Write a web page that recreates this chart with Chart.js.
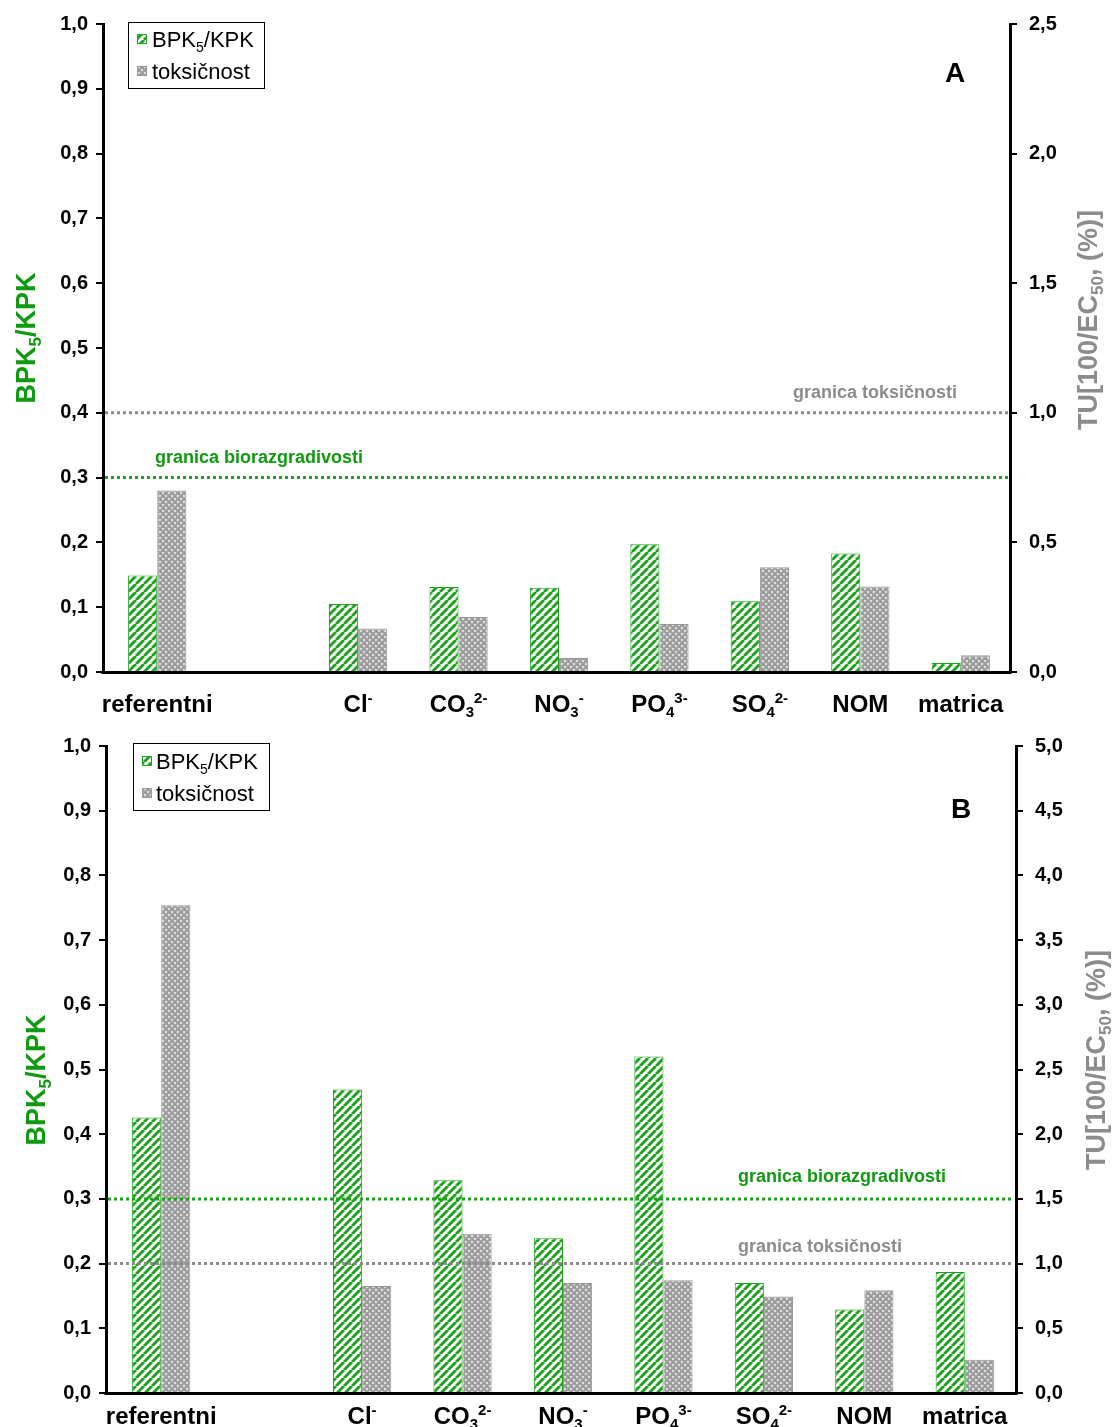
<!DOCTYPE html>
<html>
<head>
<meta charset="utf-8">
<script src="https://cdn.jsdelivr.net/npm/chart.js@4.4.0/dist/chart.umd.min.js"></script>
<style>
  body { margin: 0; background: #fff; }
  canvas { position: absolute; left: 0; }
</style>
</head>
<body>
<canvas id="chartA" width="1112" height="722" style="top:0"></canvas>
<canvas id="chartB" width="1112" height="705" style="top:722px"></canvas>
<script>
// Categories (second slot is left empty on purpose, gap after the reference sample)
const categories = ['referentni', '', 'Cl⁻', 'CO₃²⁻', 'NO₃⁻', 'PO₄³⁻', 'SO₄²⁻', 'NOM', 'matrica'];
const seriesNames = ['BPK₅/KPK', 'toksičnost'];

// Panel A
const bpkA = [0.149, null, 0.105, 0.131, 0.130, 0.197, 0.109, 0.183, 0.014];
const toxA = [0.70, null, 0.168, 0.212, 0.054, 0.185, 0.404, 0.330, 0.065];

// Panel B
const bpkB = [0.426, null, 0.469, 0.329, 0.239, 0.520, 0.170, 0.129, 0.187];
const toxB = [3.77, null, 0.826, 1.230, 0.850, 0.871, 0.745, 0.795, 0.256];

// Axis ranges / steps
const leftMax = 1.0, leftStep = 0.1;
const rightMaxA = 2.5, rightMaxB = 5.0, rightStep = 0.5;

// Limits (left axis: biodegradability, right axis: toxicity)
const bioLimit = 0.3;
const toxLimit = 1.0;
const bioName = 'granica biorazgradivosti';
const toxName = 'granica toksičnosti';

const GREEN = '#1fa31f';
const GREEN_TXT = '#0f9a0f';
const GRAY = '#8c8c8c';
const FONT = '"Liberation Sans", Arial, sans-serif';

function stripePattern() {
  const n = 8;
  const c = document.createElement('canvas');
  c.width = c.height = n;
  const g = c.getContext('2d');
  g.fillStyle = '#fff';
  g.fillRect(0, 0, n, n);
  g.strokeStyle = GREEN;
  g.lineWidth = 3;
  for (let k = -1; k <= 1; k++) {
    g.beginPath();
    g.moveTo(k * n, n);
    g.lineTo(k * n + n, 0);
    g.stroke();
  }
  return g.createPattern(c, 'repeat');
}

function dotPattern() {
  const c = document.createElement('canvas');
  c.width = c.height = 6;
  const g = c.getContext('2d');
  g.fillStyle = '#a2a2a2';
  g.fillRect(0, 0, 6, 6);
  g.fillStyle = '#dcdcdc';
  g.fillRect(0, 0, 2, 2);
  g.fillRect(3, 3, 2, 2);
  g.fillStyle = '#888';
  g.fillRect(4, 1, 1, 1);
  g.fillRect(1, 4, 1, 1);
  return g.createPattern(c, 'repeat');
}

const stripes = stripePattern();
const dots = dotPattern();

// sub/superscript handling for labels like CO₃²⁻
const SUB = {'₀':'0','₁':'1','₂':'2','₃':'3','₄':'4','₅':'5','₆':'6','₇':'7','₈':'8','₉':'9'};
const SUP = {'⁰':'0','¹':'1','²':'2','³':'3','⁴':'4','⁵':'5','⁶':'6','⁷':'7','⁸':'8','⁹':'9','⁻':'-'};

function segments(text) {
  const out = [];
  for (const ch of text) {
    let mode = 'n', c = ch;
    if (SUB[ch]) { mode = 'sub'; c = SUB[ch]; }
    else if (SUP[ch]) { mode = 'sup'; c = SUP[ch]; }
    const last = out[out.length - 1];
    if (last && last.mode === mode) last.text += c;
    else out.push({ mode, text: c });
  }
  return out;
}

function drawRich(ctx, text, x, y, size, weight, color, align) {
  const small = Math.round(size * 0.64);
  const segs = segments(text);
  const fontFor = m => `${weight} ${m === 'n' ? size : small}px ${FONT}`;
  let w = 0;
  segs.forEach(s => { ctx.font = fontFor(s.mode); s.w = ctx.measureText(s.text).width; w += s.w; });
  let cx = align === 'center' ? x - w / 2 : align === 'right' ? x - w : x;
  ctx.fillStyle = color;
  ctx.textAlign = 'left';
  ctx.textBaseline = 'alphabetic';
  const base = y + size * 0.36;
  segs.forEach(s => {
    ctx.font = fontFor(s.mode);
    const dy = s.mode === 'sub' ? size * 0.24 : s.mode === 'sup' ? -size * 0.36 : 0;
    ctx.fillText(s.text, cx, base + dy);
    cx += s.w;
  });
}

function fmt(v) { return v.toFixed(1).replace('.', ','); }

function decorations(L) {
  return {
    id: 'decor',
    // categories start a few px right of the value axis line
    afterLayout(chart) {
      const x = chart.scales.x;
      x.left += L.xShift[0];
      x.right += L.xShift[1];
      x.width = x.right - x.left;
      x.configure();
    },
    afterDraw(chart) {
      const ctx = chart.ctx;
      const area = chart.chartArea;
      const x = chart.scales.x, y = chart.scales.y, y2 = chart.scales.y2;
      ctx.save();

      // category axis line
      ctx.beginPath();
      ctx.lineWidth = 3;
      ctx.strokeStyle = '#000';
      ctx.moveTo(area.left - 1.5, area.bottom + 0.5);
      ctx.lineTo(area.right + 1.5, area.bottom + 0.5);
      ctx.stroke();

      // limit lines
      const lines = [
        { py: y2.getPixelForValue(toxLimit), color: GRAY },
        { py: y.getPixelForValue(bioLimit), color: GREEN }
      ];
      lines.forEach(l => {
        ctx.beginPath();
        ctx.setLineDash([3, 3]);
        ctx.lineWidth = 3;
        ctx.strokeStyle = l.color;
        ctx.moveTo(area.left + 2, l.py);
        ctx.lineTo(area.right - 2, l.py);
        ctx.stroke();
      });
      ctx.setLineDash([]);
      drawRich(ctx, toxName, L.toxText[0], L.toxText[1], 18, 'bold', GRAY, L.toxText[2]);
      drawRich(ctx, bioName, L.bioText[0], L.bioText[1], 18, 'bold', GREEN_TXT, L.bioText[2]);

      // category labels
      categories.forEach((c, i) => {
        if (!c) return;
        drawRich(ctx, c, x.getPixelForValue(i), area.bottom + L.labelDy, 24, 'bold', '#000', 'center');
      });

      // axis titles
      ctx.save();
      ctx.translate(L.leftTitle[0], L.leftTitle[1]);
      ctx.rotate(-Math.PI / 2);
      drawRich(ctx, 'BPK₅/KPK', 0, 0, 27, 'bold', GREEN_TXT, 'center');
      ctx.restore();
      ctx.save();
      ctx.translate(L.rightTitle[0], L.rightTitle[1]);
      ctx.rotate(-Math.PI / 2);
      drawRich(ctx, 'TU[100/EC₅₀, (%)]', 0, 0, 27, 'bold', GRAY, 'center');
      ctx.restore();

      // panel letter
      drawRich(ctx, L.letter, L.letterPos[0], L.letterPos[1], 28, 'bold', '#000', 'center');

      // legend
      const b = L.legend;
      ctx.fillStyle = '#fff';
      ctx.fillRect(b.x, b.y, b.w, b.h);
      ctx.lineWidth = 1;
      ctx.strokeStyle = '#000';
      ctx.strokeRect(b.x + 0.5, b.y + 0.5, b.w, b.h);
      [[stripes, GREEN], [dots, '#999']].forEach((p, i) => {
        const ry = b.rows[i];
        ctx.fillStyle = p[0];
        ctx.fillRect(b.sx, ry - 5, 10, 10);
        ctx.strokeStyle = p[1];
        ctx.strokeRect(b.sx + 0.5, ry - 4.5, 9, 9);
        drawRich(ctx, seriesNames[i], b.tx, ry, 22, 'normal', '#000', 'left');
      });

      ctx.restore();
    }
  };
}

function makePanel(id, bpk, tox, rightMax, L) {
  const tickFont = { family: FONT, size: 20, weight: 'bold' };
  return new Chart(document.getElementById(id), {
    type: 'bar',
    data: {
      labels: categories,
      datasets: [
        { label: seriesNames[0], data: bpk, yAxisID: 'y', backgroundColor: stripes, borderColor: GREEN, borderWidth: 1 },
        { label: seriesNames[1], data: tox, yAxisID: 'y2', backgroundColor: dots, borderColor: '#999', borderWidth: 1 }
      ]
    },
    options: {
      responsive: false,
      animation: false,
      layout: { padding: { top: L.top, left: 0, right: 0, bottom: 0 } },
      datasets: { bar: { categoryPercentage: 0.58, barPercentage: 1 } },
      plugins: { legend: { display: false }, tooltip: { enabled: false } },
      scales: {
        x: {
          grid: { display: false },
          border: { display: false },
          ticks: { display: false },
          afterFit: s => { s.height = L.xAxisH; }
        },
        y: {
          position: 'left',
          min: 0, max: leftMax,
          ticks: { stepSize: leftStep, callback: v => fmt(v), font: tickFont, color: '#000', padding: 8 },
          grid: { drawOnChartArea: false, color: '#000', lineWidth: 2, tickLength: 7 },
          border: { color: '#000', width: 3 },
          afterFit: s => { s.width = L.left; }
        },
        y2: {
          position: 'right',
          min: 0, max: rightMax,
          ticks: { stepSize: rightStep, callback: v => fmt(v), font: tickFont, color: '#000', padding: 12 },
          grid: { drawOnChartArea: false, color: '#000', lineWidth: 2, tickLength: 7 },
          border: { color: '#000', width: 3 },
          afterFit: s => { s.width = L.rightW; }
        }
      }
    },
    plugins: [decorations(L)]
  });
}

makePanel('chartA', bpkA, toxA, rightMaxA, {
  top: 22, left: 103, rightW: 102, xAxisH: 50, labelDy: 31, xShift: [4, 1],
  toxText: [957, 392, 'right'], bioText: [155, 457, 'left'],
  leftTitle: [25, 338], rightTitle: [1087, 320],
  letter: 'A', letterPos: [955, 72],
  legend: { x: 128, y: 22, w: 136, h: 66, rows: [39, 71], sx: 137, tx: 152 }
});

makePanel('chartB', bpkB, toxB, rightMaxB, {
  top: 23, left: 106, rightW: 96, xAxisH: 34, labelDy: 22, xShift: [5, -1],
  toxText: [738, 524, 'left'], bioText: [738, 454, 'left'],
  leftTitle: [35, 358], rightTitle: [1095, 338],
  letter: 'B', letterPos: [961, 86],
  legend: { x: 133, y: 21, w: 136, h: 67, rows: [39, 71], sx: 142, tx: 156 }
});
</script>
</body>
</html>
